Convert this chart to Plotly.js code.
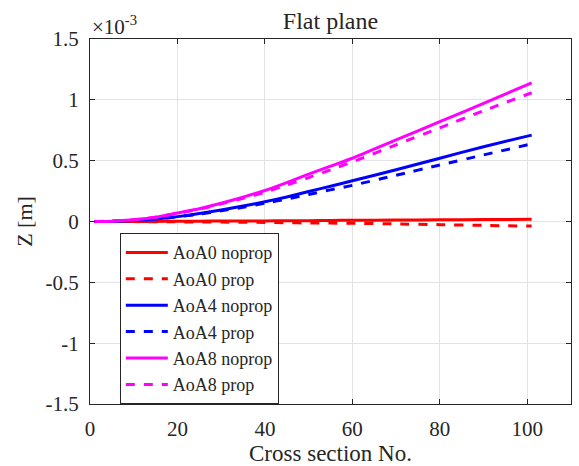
<!DOCTYPE html>
<html>
<head>
<meta charset="utf-8">
<script src="https://cdn.plot.ly/plotly-3.0.1.min.js"></script>
<style>html,body{margin:0;padding:0;background:#fff;}#chart{width:579px;height:466px;}</style>
</head>
<body>
<div id="chart"></div>
<script>
// Cross section numbers where values were read
const xs = [1, 5, 10, 15, 20, 25, 30, 35, 40, 45, 50, 55, 60, 70, 80, 90, 101];
// Z values in units of 1e-3 m
const aoa0Noprop = [0, 0, 0.001, 0.001, 0.002, 0.003, 0.004, 0.004, 0.005, 0.006, 0.007, 0.009, 0.010, 0.012, 0.014, 0.016, 0.018];
const aoa0Prop   = [0, 0, -0.001, -0.002, -0.003, -0.004, -0.005, -0.006, -0.008, -0.010, -0.012, -0.013, -0.015, -0.020, -0.026, -0.032, -0.038];
const aoa4Noprop = [0, 0.001, 0.008, 0.020, 0.040, 0.065, 0.095, 0.127, 0.162, 0.202, 0.247, 0.290, 0.335, 0.425, 0.520, 0.615, 0.710];
const aoa4Prop   = [0, 0.001, 0.008, 0.020, 0.038, 0.060, 0.088, 0.117, 0.150, 0.185, 0.222, 0.260, 0.297, 0.380, 0.464, 0.547, 0.638];
const aoa8Noprop = [0, 0.003, 0.015, 0.035, 0.070, 0.105, 0.150, 0.200, 0.255, 0.320, 0.390, 0.455, 0.520, 0.670, 0.820, 0.970, 1.140];
const aoa8Prop   = [0, 0.003, 0.015, 0.035, 0.068, 0.100, 0.145, 0.190, 0.240, 0.300, 0.360, 0.425, 0.490, 0.630, 0.770, 0.910, 1.058];

const seriesNames = ['AoA0 noprop', 'AoA0 prop', 'AoA4 noprop', 'AoA4 prop', 'AoA8 noprop', 'AoA8 prop'];
const yTickVals = [-1.5, -1, -0.5, 0, 0.5, 1, 1.5];
const yTickText = ['-1.5', '-1', '-0.5', '0', '0.5', '1', '1.5'];
const xTickVals = [0, 20, 40, 60, 80, 100];

const ys = [aoa0Noprop, aoa0Prop, aoa4Noprop, aoa4Prop, aoa8Noprop, aoa8Prop];
const colors = ['#ff0000', '#ff0000', '#0000ff', '#0000ff', '#ff00ff', '#ff00ff'];
const dashes = ['solid', 'dash', 'solid', 'dash', 'solid', 'dash'];

const traces = ys.map((y, i) => ({
  x: xs, y: y, name: seriesNames[i], type: 'scatter', mode: 'lines',
  line: {color: colors[i], width: 3, dash: dashes[i], shape: 'spline', smoothing: 0.5}
}));

const fam = 'Liberation Serif';
const ink = '#262626';
const f = (s) => ({family: fam, size: s, color: ink});
const layout = {
  width: 579, height: 466,
  margin: {l: 90, r: 8, t: 39, b: 62},
  paper_bgcolor: '#fff', plot_bgcolor: '#fff',
  font: f(20),
  title: {text: 'Flat plane', x: 0.5, xref: 'paper', xanchor: 'center', y: 1 - 21/466, yref: 'container', yanchor: 'middle', font: f(24)},
  xaxis: {
    range: [0, 110], tickvals: xTickVals, ticks: 'inside', ticklen: 5, tickcolor: ink,
    showline: true, linecolor: ink, linewidth: 1, mirror: 'ticks',
    showgrid: true, gridcolor: '#e3e3e3', zeroline: false,
    tickfont: f(21), ticklabelstandoff: 6,
    title: {text: 'Cross section No.', font: f(23), standoff: 5}
  },
  yaxis: {
    range: [-1.5, 1.5], tickvals: yTickVals, ticktext: yTickText, ticks: 'inside', ticklen: 5, tickcolor: ink,
    showline: true, linecolor: ink, linewidth: 1, mirror: 'ticks',
    showgrid: true, gridcolor: '#e3e3e3', zeroline: false,
    tickfont: f(21), ticklabelstandoff: 6,
    title: {text: 'Z [m]', font: f(22), standoff: 6}
  },
  legend: {
    x: 0.062, y: 0.468, xanchor: 'left', yanchor: 'top',
    bgcolor: '#fff', bordercolor: ink, borderwidth: 1,
    font: f(18), tracegroupgap: 0, itemwidth: 42
  },
  annotations: [{
    text: '×10<sup>-3</sup>', xref: 'paper', yref: 'paper', x: 0, y: 1, xanchor: 'left', yanchor: 'bottom',
    showarrow: false, font: f(21), yshift: -2
  }]
};
Plotly.newPlot('chart', traces, layout, {displayModeBar: false, staticPlot: true});
</script>
</body>
</html>
